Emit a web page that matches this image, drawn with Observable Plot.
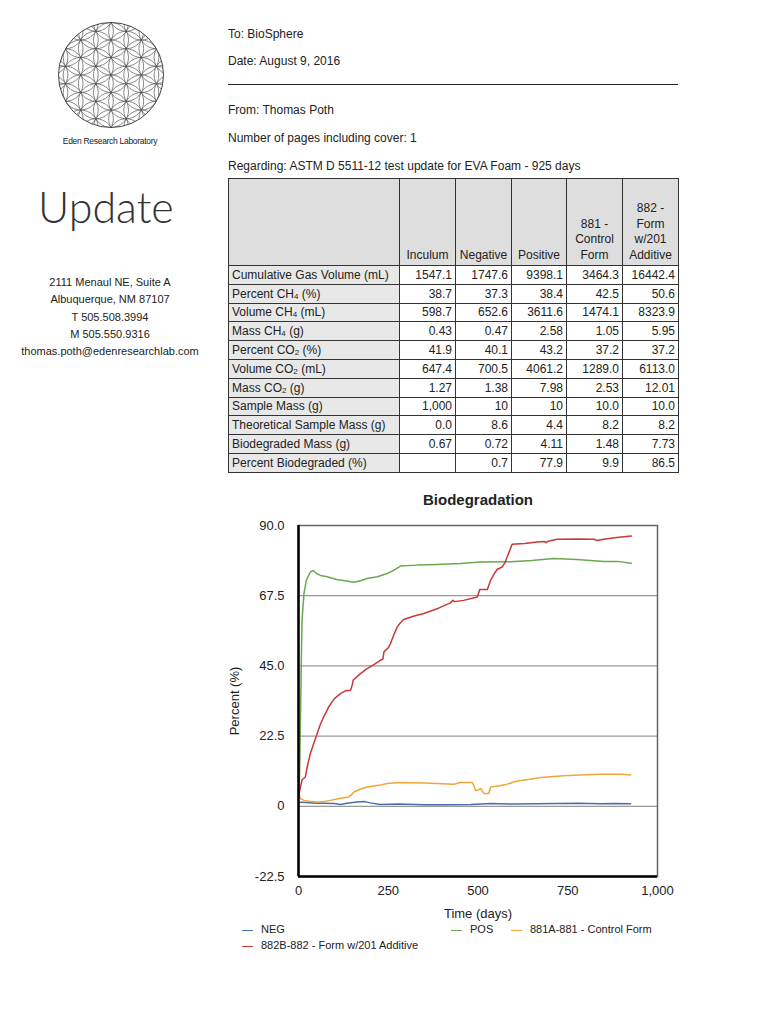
<!DOCTYPE html>
<html>
<head>
<meta charset="utf-8">
<script src="https://cdn.jsdelivr.net/npm/d3@7"></script>
<script src="https://cdn.jsdelivr.net/npm/@observablehq/plot@0.6"></script>
<style>
  html, body { margin: 0; padding: 0; background: #fff; }
  body { width: 768px; height: 1024px; position: relative; overflow: hidden; font-family: "Liberation Sans", Arial, sans-serif; color: #222; }
  .abs { position: absolute; }
  .hdr { left: 228px; font-size: 12px; white-space: nowrap; }
  .addr { left: 10px; width: 200px; text-align: center; font-size: 11px; line-height: 17.3px; }
  table { border-collapse: collapse; table-layout: fixed; font-size: 12px; }
  td { border: 1px solid #333; padding: 0 3px; height: 17.8px; text-align: right; white-space: nowrap; line-height: 14px; }
  td.lab { text-align: left; background: #e8e8e8; }
  tr.head td { background: #dedede; text-align: center; vertical-align: bottom; height: 84px; line-height: 15.5px; padding-bottom: 2px; white-space: normal; }
  sub { font-size: 8px; vertical-align: -1px; line-height: 0; }
  .leg { font-size: 11px; white-space: nowrap; }
  .sw { display: inline-block; width: 11px; height: 0; border-top: 1.6px solid; vertical-align: middle; margin-right: 8px; }
</style>
</head>
<body>
<svg id="logo" class="abs" style="left:55px;top:19px" width="112" height="112"></svg>
<div class="abs" style="left:30px;width:160px;top:136px;text-align:center;font-size:8.5px;letter-spacing:-0.3px;">Eden Research Laboratory</div>
<div class="abs" style="left:38px;top:181px;font-family:Lato, 'Open Sans', sans-serif;font-weight:300;font-size:43px;color:#333;">Update</div>
<div class="abs addr" style="top:274px;">2111 Menaul NE, Suite A<br>Albuquerque, NM 87107<br>T 505.508.3994<br>M 505.550.9316<br>thomas.poth@edenresearchlab.com</div>

<div class="abs hdr" style="top:27px;">To: BioSphere</div>
<div class="abs hdr" style="top:54px;">Date: August 9, 2016</div>
<div class="abs" style="left:228px;top:84px;width:450px;height:0;border-top:1.3px solid #222;"></div>
<div class="abs hdr" style="top:103px;">From: Thomas Poth</div>
<div class="abs hdr" style="top:131px;">Number of pages including cover: 1</div>
<div class="abs hdr" style="top:159px;">Regarding: ASTM D 5511-12 test update for EVA Foam - 925 days</div>

<div id="tbl" class="abs" style="left:228px;top:178px;"></div>

<div class="abs" style="left:200px;width:556px;top:491px;text-align:center;font-weight:bold;font-size:15px;">Biodegradation</div>
<div id="chart" class="abs" style="left:200px;top:515px;"></div>
<div class="abs leg" style="left:242px;top:923px;"><span class="sw" style="border-color:#4a6fa5"></span>NEG</div>
<div class="abs leg" style="left:451px;top:923px;"><span class="sw" style="border-color:#6aa84f"></span>POS</div>
<div class="abs leg" style="left:511px;top:923px;"><span class="sw" style="border-color:#f0a63c"></span>881A-881 - Control Form</div>
<div class="abs leg" style="left:242px;top:939px;"><span class="sw" style="border-color:#c9383a"></span>882B-882 - Form w/201 Additive</div>

<script>
// ---------- Table data ----------
const tableColumns = ["Inculum", "Negative", "Positive", "881 -<br>Control<br>Form", "882 -<br>Form<br>w/201<br>Additive"];
const rowLabels = [
  "Cumulative Gas Volume (mL)", "Percent CH<sub>4</sub> (%)", "Volume CH<sub>4</sub> (mL)", "Mass CH<sub>4</sub> (g)",
  "Percent CO<sub>2</sub> (%)", "Volume CO<sub>2</sub> (mL)", "Mass CO<sub>2</sub> (g)", "Sample Mass (g)",
  "Theoretical Sample Mass (g)", "Biodegraded Mass (g)", "Percent Biodegraded (%)"
];
const colInculum  = ["1547.1", "38.7", "598.7", "0.43", "41.9", "647.4", "1.27", "1,000", "0.0", "0.67", ""];
const colNegative = ["1747.6", "37.3", "652.6", "0.47", "40.1", "700.5", "1.38", "10", "8.6", "0.72", "0.7"];
const colPositive = ["9398.1", "38.4", "3611.6", "2.58", "43.2", "4061.2", "7.98", "10", "4.4", "4.11", "77.9"];
const col881      = ["3464.3", "42.5", "1474.1", "1.05", "37.2", "1289.0", "2.53", "10.0", "8.2", "1.48", "9.9"];
const col882      = ["16442.4", "50.6", "8323.9", "5.95", "37.2", "6113.0", "12.01", "10.0", "8.2", "7.73", "86.5"];

// ---------- Chart data ----------
const series = ["NEG", "POS", "881A-881 - Control Form", "882B-882 - Form w/201 Additive"];
const seriesColors = ["#4a6fa5", "#6aa84f", "#f0a63c", "#c9383a"];

const negDays = [0, 20, 50, 71, 100, 117, 135, 163, 185, 200, 228, 280, 350, 420, 480, 535, 600, 660, 721, 780, 840, 880, 925];
const negVals = [1.3, 1.2, 1.0, 1.0, 0.9, 0.6, 1.0, 1.4, 1.5, 1.1, 0.6, 0.7, 0.5, 0.5, 0.6, 0.9, 0.7, 0.8, 0.9, 1.0, 0.8, 0.9, 0.8];

const posDays = [0, 3, 5.5, 8, 10, 15, 22, 33, 41, 50, 61, 80, 108, 130, 154, 175, 191, 220, 247, 265, 284, 330, 386, 450, 507, 591, 650, 711, 776, 850, 888, 927];
const posVals = [2, 10, 28, 48, 60, 68, 72.5, 75.1, 75.6, 74.6, 74.0, 73.6, 72.6, 72.3, 71.8, 72.4, 73.0, 73.6, 74.6, 75.6, 77.0, 77.3, 77.5, 77.8, 78.3, 78.4, 78.8, 79.4, 79.1, 78.5, 78.5, 77.9];

const ctlDays = [0, 5, 15, 30, 52, 70, 89, 110, 140, 150, 154, 170, 191, 215, 230, 247, 284, 350, 433, 451, 484, 489, 493, 500, 507, 512, 516, 530, 535, 560, 581, 609, 640, 674, 739, 800, 841, 900, 925];
const ctlVals = [4.5, 2.5, 1.9, 1.6, 1.4, 1.5, 1.9, 2.4, 3.0, 4.0, 4.6, 5.4, 6.2, 6.6, 6.8, 7.3, 7.6, 7.5, 7.1, 7.6, 7.6, 6.5, 5.1, 5.2, 5.7, 5.0, 4.1, 4.1, 6.2, 6.6, 7.1, 8.1, 8.6, 9.2, 9.8, 10.1, 10.3, 10.3, 10.0];

const addDays = [0, 5, 10, 19, 25, 33, 42, 52, 60, 70, 85, 100, 117, 130, 145, 150, 152, 170, 191, 210, 228, 235, 238, 250, 256, 265, 275, 285, 293, 320, 349, 390, 423, 430, 435, 460, 498, 505, 526, 535, 545, 553, 567, 575, 581, 590, 595, 630, 665, 685, 690, 693, 720, 780, 823, 832, 850, 880, 927];
const addVals = [3, 6, 8.5, 9.4, 13, 16.9, 20, 23.3, 26, 28.6, 32, 34.5, 36.1, 37, 37.2, 39, 40.4, 42.3, 44.1, 45.4, 46.8, 47.2, 49.5, 50.8, 52.1, 54.8, 57.5, 59, 59.9, 60.9, 61.8, 63.5, 65.2, 66.0, 65.6, 66.0, 67.1, 69.5, 69.5, 72.4, 74.5, 75.9, 76.7, 78, 79.9, 82.5, 84.0, 84.2, 84.7, 84.9, 84.5, 84.9, 85.6, 85.7, 85.6, 85.2, 85.6, 86.1, 86.6];

const xTicks = [0, 250, 500, 750, 1000];
const yTicks = [-22.5, 0, 22.5, 45, 67.5, 90];
const gridLines = [0, 22.5, 45, 67.5];

// ---------- Table ----------
const cols = [colInculum, colNegative, colPositive, col881, col882];
const widths = [171, 56, 56, 55, 56, 56];
let html = '<table style="width:450px"><colgroup>' + widths.map(w => `<col style="width:${w}px">`).join("") + '</colgroup>';
html += '<tr class="head"><td></td>' + tableColumns.map(c => `<td>${c}</td>`).join("") + '</tr>';
rowLabels.forEach((lab, i) => {
  html += `<tr><td class="lab">${lab}</td>` + cols.map(c => `<td>${c[i]}</td>`).join("") + '</tr>';
});
html += '</table>';
document.getElementById("tbl").innerHTML = html;

// ---------- Logo (decorative) ----------
(function () {
  const svg = d3.select("#logo");
  const cx = 56, cy = 56, R = 52.5, r = R / 3;
  const g = svg.append("g");
  svg.append("clipPath").attr("id", "clipc").append("circle").attr("cx", cx).attr("cy", cy).attr("r", R);
  const centers = [];
  for (let i = -8; i <= 8; i++) for (let j = -8; j <= 8; j++) {
    const x = cx + i * r * Math.sqrt(3) / 2;
    const y = cy + j * r + (i % 2 !== 0 ? r / 2 : 0);
    if (Math.hypot(x - cx, y - cy) < R + r) centers.push([x, y]);
  }
  g.attr("clip-path", "url(#clipc)").selectAll("circle").data(centers).join("circle")
    .attr("cx", d => d[0]).attr("cy", d => d[1]).attr("r", r)
    .attr("fill", "none").attr("stroke", "#555").attr("stroke-width", 0.7);
  svg.append("circle").attr("cx", cx).attr("cy", cy).attr("r", R).attr("fill", "none").attr("stroke", "#444").attr("stroke-width", 1);
})();

// ---------- Chart ----------
const mk = (days, vals, name) => days.map((d, i) => ({day: d, value: vals[i], series: name}));
const lines = [mk(negDays, negVals, series[0]), mk(posDays, posVals, series[1]), mk(ctlDays, ctlVals, series[2]), mk(addDays, addVals, series[3])];

const chart = Plot.plot({
  width: 480, height: 406,
  marginLeft: 98, marginRight: 23, marginTop: 10, marginBottom: 45,
  x: {domain: [0, 1000]},
  y: {domain: [-22.5, 90]},
  style: {fontFamily: "Liberation Sans, Arial, sans-serif", fontSize: "13px", color: "#222", background: "transparent", overflow: "visible"},
  marks: [
    Plot.ruleY(gridLines, {stroke: "#999", strokeWidth: 1.2, strokeOpacity: 1}),
    Plot.frame({stroke: "#666", strokeWidth: 1.5}),
    ...lines.map((L, i) => Plot.line(L, {x: "day", y: "value", stroke: seriesColors[i], strokeWidth: 1.5, curve: "linear"})),
    Plot.ruleX([0], {stroke: "#000", strokeWidth: 2.5}),
    Plot.ruleY([-22.5], {stroke: "#000", strokeWidth: 2.5}),
    Plot.axisX({ticks: xTicks, tickFormat: d3.format(","), tickSize: 0, tickPadding: 9, label: "Time (days)", labelAnchor: "center", labelArrow: "none", labelOffset: 41}),
    Plot.axisY({ticks: yTicks, tickFormat: d => d === 0 ? "0" : d.toFixed(1), tickSize: 0, tickPadding: 14, label: "Percent (%)", labelAnchor: "center", labelArrow: "none", labelOffset: 69})
  ]
});
document.getElementById("chart").appendChild(chart);
</script>
</body>
</html>
